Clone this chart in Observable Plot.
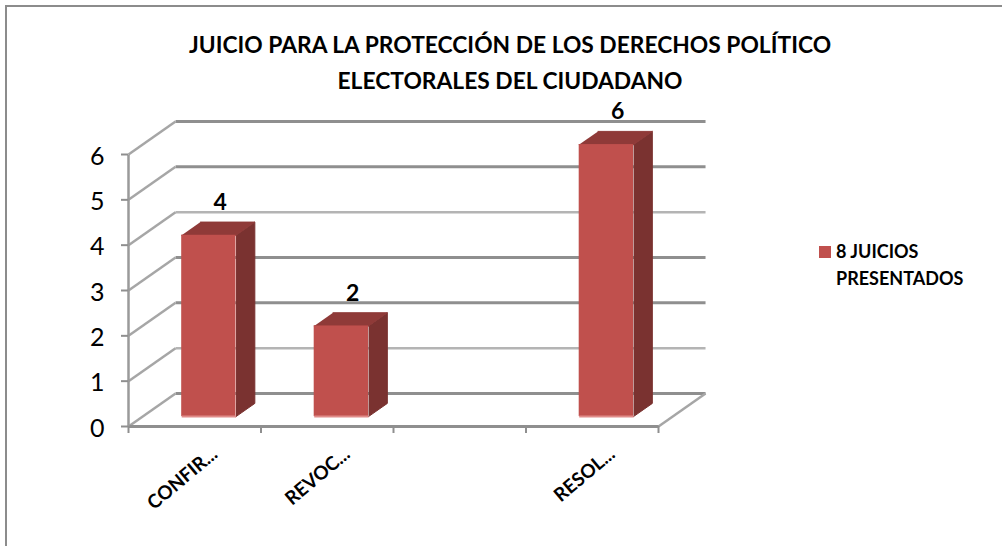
<!DOCTYPE html>
<html>
<head>
<meta charset="utf-8">
<script src="https://cdn.jsdelivr.net/npm/d3@7"></script>
<script src="https://cdn.jsdelivr.net/npm/@observablehq/plot@0.6"></script>
<style>
  html, body { margin: 0; padding: 0; background: #fff; overflow: hidden; }
  #chart { position: relative; width: 1002px; height: 546px; font-family: Lato, sans-serif; color: #000; overflow: hidden; }
  #frame { position: absolute; left: 5px; top: 5px; width: 1100px; height: 700px; border-left: 2px solid #8c8c8c; border-top: 2px solid #8c8c8c; }
  #title { position: relative; height: 100px; box-sizing: border-box; padding: 26px 0 0 18px; text-align: center; font-weight: 700; font-size: 22.8px; line-height: 36px; }
  #legend { position: absolute; left: 819px; top: 238px; font-weight: 700; font-size: 18px; line-height: 27px; display: flex; }
  #legend i { display: block; width: 12px; height: 12px; margin: 8px 5px 0 0; background: #c0504d; }
  svg { display: block; }
</style>
</head>
<body>
<div id="chart">
  <div id="frame"></div>
  <div id="title">JUICIO PARA LA PROTECCIÓN DE LOS DERECHOS POLÍTICO<br>ELECTORALES DEL CIUDADANO</div>
  <div id="legend"><i></i><span>8 JUICIOS<br>PRESENTADOS</span></div>
</div>
<script>
const categories = ["CONFIR...", "REVOC...", "", "RESOL..."];
const values = [4, 2, null, 6];
const yTicks = [0, 1, 2, 3, 4, 5, 6];
const boldLevels = [0, 2, 3, 5, 6];
const thinLevels = [1, 4];

// Oblique projection of the 3-D box into (x, y) data units
const depthX = 0.355, depthY = 0.728;
const px = (x, z) => x + z * depthX;
const py = (y, z) => y + z * depthY;
const barFront = 0.3, barBack = 0.7, barHalf = 0.205;

const bars = categories.map((c, i) => ({c, i, v: values[i]})).filter(d => d.v != null);
const poly = (list, fn) => list.flatMap((d, k) => fn(d).map(([x, y]) => ({k, x, y})));

const wall = l => ({x1: px(0, 1), x2: px(categories.length, 1), y1: py(l, 1), y2: py(l, 1)});
const diag = l => ({x1: px(0, 0), x2: px(0, 1), y1: py(l, 0), y2: py(l, 1)});

const sideFace = poly(bars, d => {
  const r = d.i + 0.5 + barHalf;
  return [[px(r, barFront), py(0, barFront)], [px(r, barBack), py(0, barBack)],
          [px(r, barBack), py(d.v, barBack)], [px(r, barFront), py(d.v, barFront)]];
});
const topFace = poly(bars, d => {
  const l = d.i + 0.5 - barHalf, r = d.i + 0.5 + barHalf;
  return [[px(l, barFront), py(d.v, barFront)], [px(r, barFront), py(d.v, barFront)],
          [px(r, barBack), py(d.v, barBack)], [px(l, barBack), py(d.v, barBack)]];
});

const link = (data, stroke, strokeWidth) => Plot.link(data, {x1: "x1", x2: "x2", y1: "y1", y2: "y2", stroke, strokeWidth});

const plot = Plot.plot({
  width: 1002,
  height: 446,
  marginLeft: 128,
  marginRight: 344,
  marginTop: 54,
  marginBottom: 120,
  x: {domain: [0, categories.length]},
  y: {domain: [0, 6]},
  style: {fontFamily: "Lato, sans-serif", background: "transparent", overflow: "visible"},
  marks: [
    link(thinLevels.map(wall), "#b4b4b4", 2.5),
    link(boldLevels.map(wall), "#8f8f8f", 3),
    link(yTicks.map(diag), "#a6a6a6", 2.5),
    link([{x1: px(categories.length, 0), x2: px(categories.length, 1), y1: py(0, 0), y2: py(0, 1)}], "#a6a6a6", 2.5),
    link([{x1: 0, x2: categories.length, y1: 0, y2: 0}], "#8f8f8f", 3),
    link([{x1: 0, x2: 0, y1: 0, y2: 6}], "#9a9a9a", 2.5),
    Plot.axisY({ticks: yTicks, tickSize: 7, tickFormat: () => "", stroke: "#8f8f8f", strokeWidth: 2, strokeOpacity: 1, label: null}),
    Plot.axisY({ticks: yTicks, tickSize: 0, tickPadding: 24, dy: 2, fontSize: 25, tickFormat: "d", fill: "#000", label: null}),
    Plot.axisX({ticks: d3.range(categories.length + 1), tickSize: 7, tickFormat: () => "", stroke: "#8f8f8f", strokeWidth: 2, strokeOpacity: 1, label: null}),
    Plot.line(sideFace, {x: "x", y: "y", z: "k", fill: "#7a3230", stroke: "#7a3230", strokeWidth: 1}),
    Plot.line(topFace, {x: "x", y: "y", z: "k", fill: "#8f3a38", stroke: "#8f3a38", strokeWidth: 1}),
    Plot.rect(bars, {
      x1: d => px(d.i + 0.5 - barHalf, barFront),
      x2: d => px(d.i + 0.5 + barHalf, barFront),
      y1: py(0, barFront),
      y2: d => py(d.v, barFront),
      fill: "#c0504d"
    }),
    Plot.link(bars, {
      x1: d => px(d.i + 0.5 - barHalf, barFront),
      x2: d => px(d.i + 0.5 + barHalf, barFront),
      y1: py(0, barFront),
      y2: py(0, barFront),
      stroke: "#e08c8a",
      strokeWidth: 2
    }),
    Plot.text(bars, {
      x: d => px(d.i + 0.5, 0.5),
      y: d => py(d.v, 0.5),
      text: "v",
      dx: 2,
      dy: -26,
      fontSize: 23,
      fontWeight: 700,
      fill: "#000"
    }),
    Plot.text(categories.map((c, i) => ({c, i})).filter(d => d.c), {
      x: d => d.i + 0.5,
      y: 0,
      text: "c",
      rotate: -40,
      textAnchor: "end",
      dx: 20,
      dy: 25,
      fontSize: 19,
      fontWeight: 700,
      fill: "#000"
    })
  ]
});
document.getElementById("chart").insertBefore(plot, document.getElementById("legend"));
</script>
</body>
</html>
